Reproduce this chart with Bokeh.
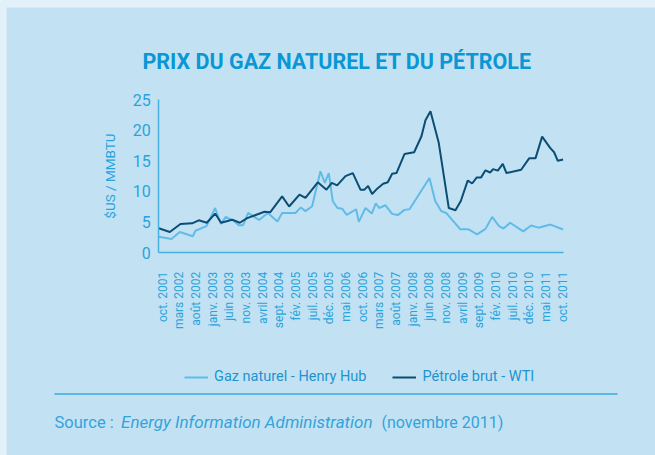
import math
from bokeh.plotting import figure
from bokeh.models import Range1d, FixedTicker, Label, Legend, LegendItem, BoxAnnotation
from bokeh.embed import file_html
from bokeh.resources import INLINE

# ---- data (x = months since oct. 2001) ----
tick_months = list(range(0, 121, 5))
tick_labels = ["oct. 2001", "mars 2002", "août 2002", "janv. 2003", "juin 2003",
               "nov. 2003", "avril 2004", "sept. 2004", "fév. 2005", "juil. 2005",
               "déc. 2005", "mai 2006", "oct. 2006", "mars 2007", "août 2007",
               "janv. 2008", "juin 2008", "nov. 2008", "avril 2009", "sept. 2009",
               "fév. 2010", "juil. 2010", "déc. 2010", "mai 2011", "oct. 2011"]

gas_m = [-1.2, 2.6, 5.1, 9.0, 9.8, 13.1, 15.7, 17.4, 18.9, 21.0,
         22.8, 24.1, 25.6, 28.9, 31.5, 34.4, 35.8, 39.8, 41.4, 42.8,
         44.8, 47.3, 48.6, 49.8, 51.0, 52.4, 53.8, 55.2, 58.0, 58.8,
         60.8, 62.7, 63.9, 64.9, 66.8, 68.8, 70.5, 72.5, 74.0, 80.0,
         81.7, 83.5, 85.0, 89.2, 91.6, 94.3, 96.8, 98.8, 100.8, 102.2,
         104.2, 108.1, 110.5, 112.7, 116.3, 120.1]
gas_v = [2.6, 2.25, 3.4, 2.7, 3.6, 4.35, 7.3, 4.7, 5.85, 5.3,
         4.5, 4.5, 6.5, 5.35, 6.5, 5.1, 6.5, 6.5, 7.4, 6.8,
         7.6, 13.3, 11.4, 13.0, 8.4, 7.3, 7.2, 6.2, 7.1, 5.05,
         7.3, 6.4, 8.05, 7.3, 7.75, 6.35, 6.15, 7.0, 7.1, 12.2,
         8.5, 6.8, 6.5, 3.85, 3.85, 3.0, 3.9, 5.85, 4.4, 3.95,
         4.9, 3.5, 4.45, 4.1, 4.6, 3.8]

oil_m = [-1.2, 2.1, 5.3, 8.8, 10.8, 13.2, 15.7, 17.5, 20.8, 23.1,
         25.3, 30.5, 32.2, 35.8, 37.9, 41.0, 42.8, 46.5, 49.1, 50.7,
         52.3, 54.8, 57.0, 59.3, 60.5, 61.6, 62.8, 64.4, 66.1, 67.5,
         68.8, 70.1, 72.5, 75.4, 77.6, 78.8, 80.3, 82.8, 85.8, 87.8,
         89.4, 91.5, 92.8, 94.2, 95.5, 96.8, 98.2, 99.1, 100.5, 102.0,
         103.1, 107.5, 109.9, 111.8, 113.8, 116.2, 117.4, 118.5, 120.1]
oil_v = [4.0, 3.4, 4.7, 4.8, 5.3, 4.9, 6.4, 4.9, 5.4, 4.9,
         5.65, 6.7, 6.6, 9.2, 7.55, 9.5, 8.95, 11.5, 10.3, 11.4,
         11.0, 12.5, 13.0, 10.3, 10.3, 10.9, 9.6, 10.5, 11.25, 11.5,
         12.9, 13.0, 16.1, 16.4, 19.0, 21.6, 23.1, 17.9, 7.3, 6.95,
         8.45, 11.8, 11.3, 12.3, 12.3, 13.45, 13.1, 13.65, 13.4, 14.5,
         13.0, 13.55, 15.4, 15.4, 18.95, 17.1, 16.4, 15.0, 15.2]

y_ticks = [0, 5, 10, 15, 20, 25]
x_bounds = (-1.2, 120.1)
y_bounds = (0, 25)

# ---- styles / geometry ----
PANEL = "#c2e2f4"
EDGE = "#e4f1f9"
GAS = "#62bbe6"
OIL = "#0b4d73"
AXIS = "#49b1e1"
TXT = "#2aa2db"
TITLE = "#0a97d4"
SRC = "#35a3da"
FONT = "Roboto"

W, H = 655, 455             # frame = whole figure
X0, PXM = 162.3, 400 / 120  # pixel of month 0 from the left, px per month
Y0, PXV = 202.7, 153.3 / 25  # pixel of value 0 from the bottom, px per unit

p = figure(width=W, height=H,
           x_range=Range1d(-X0 / PXM, (W - X0) / PXM),
           y_range=Range1d(-Y0 / PXV, (H - Y0) / PXV),
           output_backend="svg", toolbar_location=None,
           min_border_left=0, min_border_right=0, min_border_top=0, min_border_bottom=0)
p.background_fill_color = PANEL
p.border_fill_color = PANEL
p.outline_line_color = None
p.grid.visible = False

# light page edge (top and left strips)
p.add_layout(BoxAnnotation(left=0, right=W, bottom=H - 7, top=H,
                           left_units="screen", right_units="screen",
                           bottom_units="screen", top_units="screen",
                           fill_color=EDGE, fill_alpha=1, line_color=None, level="underlay"))
p.add_layout(BoxAnnotation(left=0, right=6, bottom=0, top=H,
                           left_units="screen", right_units="screen",
                           bottom_units="screen", top_units="screen",
                           fill_color=EDGE, fill_alpha=1, line_color=None, level="underlay"))

r_gas = p.line(gas_m, gas_v, line_color=GAS, line_width=2)
r_oil = p.line(oil_m, oil_v, line_color=OIL, line_width=2)

for ax in (p.xaxis[0], p.yaxis[0]):
    ax.axis_line_color = AXIS
    ax.axis_line_width = 1.5
    ax.major_tick_line_color = None
    ax.minor_tick_line_color = None
    ax.major_tick_out = 0
    ax.major_tick_in = 0
    ax.major_label_text_color = TXT
    ax.major_label_text_font = FONT

p.xaxis.fixed_location = 0
p.xaxis.bounds = x_bounds
p.xaxis.ticker = FixedTicker(ticks=tick_months)
p.xaxis.major_label_overrides = {m: lab for m, lab in zip(tick_months, tick_labels)}
p.xaxis.major_label_orientation = math.pi / 2
p.xaxis.major_label_text_font_size = "12px"
p.xaxis.major_label_standoff = 19

p.yaxis.fixed_location = x_bounds[0]
p.yaxis.bounds = y_bounds
p.yaxis.ticker = FixedTicker(ticks=y_ticks)
p.yaxis.major_label_text_font_size = "16px"
p.yaxis.major_label_standoff = 8
p.yaxis.axis_label = "$US / MMBTU"
p.yaxis.axis_label_text_font = FONT
p.yaxis.axis_label_text_font_style = "normal"
p.yaxis.axis_label_text_font_size = "13.5px"
p.yaxis.axis_label_text_color = TXT
p.yaxis.axis_label_standoff = 12

p.add_layout(Label(x=336.5, y=394, x_units="screen", y_units="screen",
                   text="PRIX DU GAZ NATUREL ET DU PÉTROLE", text_align="center",
                   text_baseline="alphabetic", text_font=FONT, text_font_style="bold",
                   text_font_size="21.5px", text_color=TITLE))

legend = Legend(items=[LegendItem(label="Gaz naturel - Henry Hub", renderers=[r_gas]),
                       LegendItem(label="Pétrole brut - WTI", renderers=[r_oil])],
                orientation="horizontal", location=(184, 70),
                padding=0, margin=0, spacing=26, glyph_width=24, glyph_height=16,
                label_height=16, label_standoff=6,
                label_text_font=FONT, label_text_font_size="14.5px",
                label_text_color="#1f93cf", background_fill_alpha=0,
                border_line_color=None)
p.add_layout(legend, "center")

p.add_layout(BoxAnnotation(left=54, right=617, bottom=60.5, top=62.5,
                           left_units="screen", right_units="screen",
                           bottom_units="screen", top_units="screen",
                           fill_color="#5bb8e3", fill_alpha=1, line_color=None))

p.add_layout(Label(x=54, y=33.3, x_units="screen", y_units="screen", text="Source :",
                   text_font=FONT, text_font_size="16.5px", text_color=SRC,
                   text_baseline="alphabetic"))
p.add_layout(Label(x=120.6, y=33.3, x_units="screen", y_units="screen",
                   text="Energy Information Administration", text_font=FONT,
                   text_font_style="italic", text_font_size="17px", text_color=SRC,
                   text_baseline="alphabetic"))
p.add_layout(Label(x=381, y=33.3, x_units="screen", y_units="screen",
                   text="(novembre 2011)", text_font=FONT, text_font_size="16px",
                   text_color=SRC, text_baseline="alphabetic"))

open("out.html", "w").write(file_html(p, INLINE))
